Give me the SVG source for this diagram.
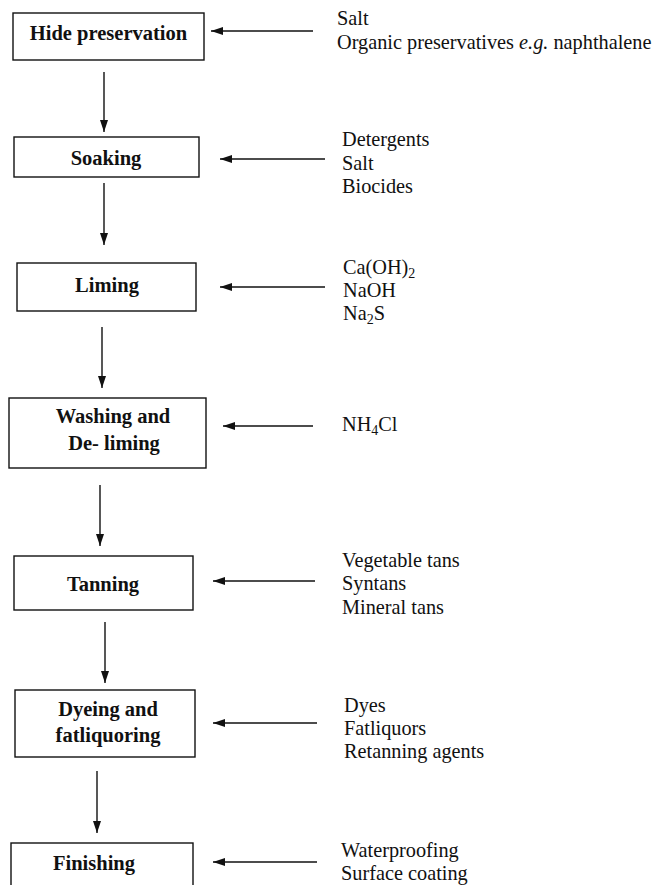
<svg xmlns="http://www.w3.org/2000/svg" width="656" height="885" viewBox="0 0 656 885">
  <style>
    .box { fill: #fff; stroke: #111; stroke-width: 1.4; }
    .step { font-family: "Liberation Serif", "Times New Roman", serif; font-weight: bold; font-size: 20.5px; fill: #111; text-anchor: middle; }
    .input { font-family: "Liberation Serif", "Times New Roman", serif; font-size: 20.3px; fill: #111; }
    .flow { stroke: #111; stroke-width: 1.4; fill: none; }
  </style>
  <defs>
    <marker id="head" viewBox="0 0 12 8" refX="12" refY="4" markerWidth="12" markerHeight="8" markerUnits="userSpaceOnUse" orient="auto">
      <path d="M0,0 L12,4 L0,8 Z" fill="#111"/>
    </marker>
  </defs>
  <rect width="656" height="885" fill="#fff"/>

  <!-- process steps -->
  <g id="hide-preservation">
    <rect class="box" x="13" y="13" width="191" height="47"/>
    <text class="step" x="108.5" y="40">Hide preservation</text>
  </g>
  <g id="soaking">
    <rect class="box" x="14" y="137" width="185" height="40"/>
    <text class="step" x="106" y="165">Soaking</text>
  </g>
  <g id="liming">
    <rect class="box" x="17" y="263" width="179" height="48"/>
    <text class="step" x="107" y="292">Liming</text>
  </g>
  <g id="washing-deliming">
    <rect class="box" x="9" y="398" width="197" height="70"/>
    <text class="step" x="113" y="423">Washing and</text>
    <text class="step" x="114" y="450">De- liming</text>
  </g>
  <g id="tanning">
    <rect class="box" x="14" y="556" width="179" height="54"/>
    <text class="step" x="103" y="591">Tanning</text>
  </g>
  <g id="dyeing-fatliquoring">
    <rect class="box" x="15" y="690" width="180" height="67"/>
    <text class="step" x="108" y="716">Dyeing and</text>
    <text class="step" x="108" y="742">fatliquoring</text>
  </g>
  <g id="finishing">
    <rect class="box" x="11" y="843" width="182" height="60"/>
    <text class="step" x="94" y="870">Finishing</text>
  </g>

  <!-- chemical inputs -->
  <g id="inputs-preservation">
    <text class="input" x="337" y="25">Salt</text>
    <text class="input" x="337" y="49">Organic preservatives <tspan font-style="italic">e.g.</tspan> naphthalene</text>
  </g>
  <g id="inputs-soaking">
    <text class="input" x="342" y="146">Detergents</text>
    <text class="input" x="342" y="170">Salt</text>
    <text class="input" x="342" y="193">Biocides</text>
  </g>
  <g id="inputs-liming">
    <text class="input" x="343" y="274">Ca(OH)<tspan dy="4" font-size="14">2</tspan></text>
    <text class="input" x="343" y="297">NaOH</text>
    <text class="input" x="343" y="320">Na<tspan dy="4" font-size="14">2</tspan><tspan dy="-4">S</tspan></text>
  </g>
  <g id="inputs-deliming">
    <text class="input" x="342" y="431">NH<tspan dy="4" font-size="14">4</tspan><tspan dy="-4">Cl</tspan></text>
  </g>
  <g id="inputs-tanning">
    <text class="input" x="342" y="567">Vegetable tans</text>
    <text class="input" x="342" y="590">Syntans</text>
    <text class="input" x="342" y="614">Mineral tans</text>
  </g>
  <g id="inputs-dyeing">
    <text class="input" x="344" y="712">Dyes</text>
    <text class="input" x="344" y="735">Fatliquors</text>
    <text class="input" x="344" y="758">Retanning agents</text>
  </g>
  <g id="inputs-finishing">
    <text class="input" x="341" y="857">Waterproofing</text>
    <text class="input" x="341" y="880">Surface coating</text>
  </g>

  <!-- connectors -->
  <g id="connectors" class="flow">
    <line x1="104" y1="72" x2="104" y2="132" marker-end="url(#head)"/>
    <line x1="104" y1="183" x2="104" y2="245" marker-end="url(#head)"/>
    <line x1="102" y1="327" x2="102" y2="388" marker-end="url(#head)"/>
    <line x1="100" y1="485" x2="100" y2="546" marker-end="url(#head)"/>
    <line x1="105" y1="622" x2="105" y2="683" marker-end="url(#head)"/>
    <line x1="97" y1="771" x2="97" y2="833" marker-end="url(#head)"/>

    <line x1="313" y1="31" x2="211" y2="31" marker-end="url(#head)"/>
    <line x1="325" y1="159" x2="220" y2="159" marker-end="url(#head)"/>
    <line x1="325" y1="287" x2="220" y2="287" marker-end="url(#head)"/>
    <line x1="313" y1="426" x2="223" y2="426" marker-end="url(#head)"/>
    <line x1="315" y1="581" x2="213" y2="581" marker-end="url(#head)"/>
    <line x1="317" y1="723" x2="213" y2="723" marker-end="url(#head)"/>
    <line x1="317" y1="862" x2="213" y2="862" marker-end="url(#head)"/>
  </g>
</svg>
